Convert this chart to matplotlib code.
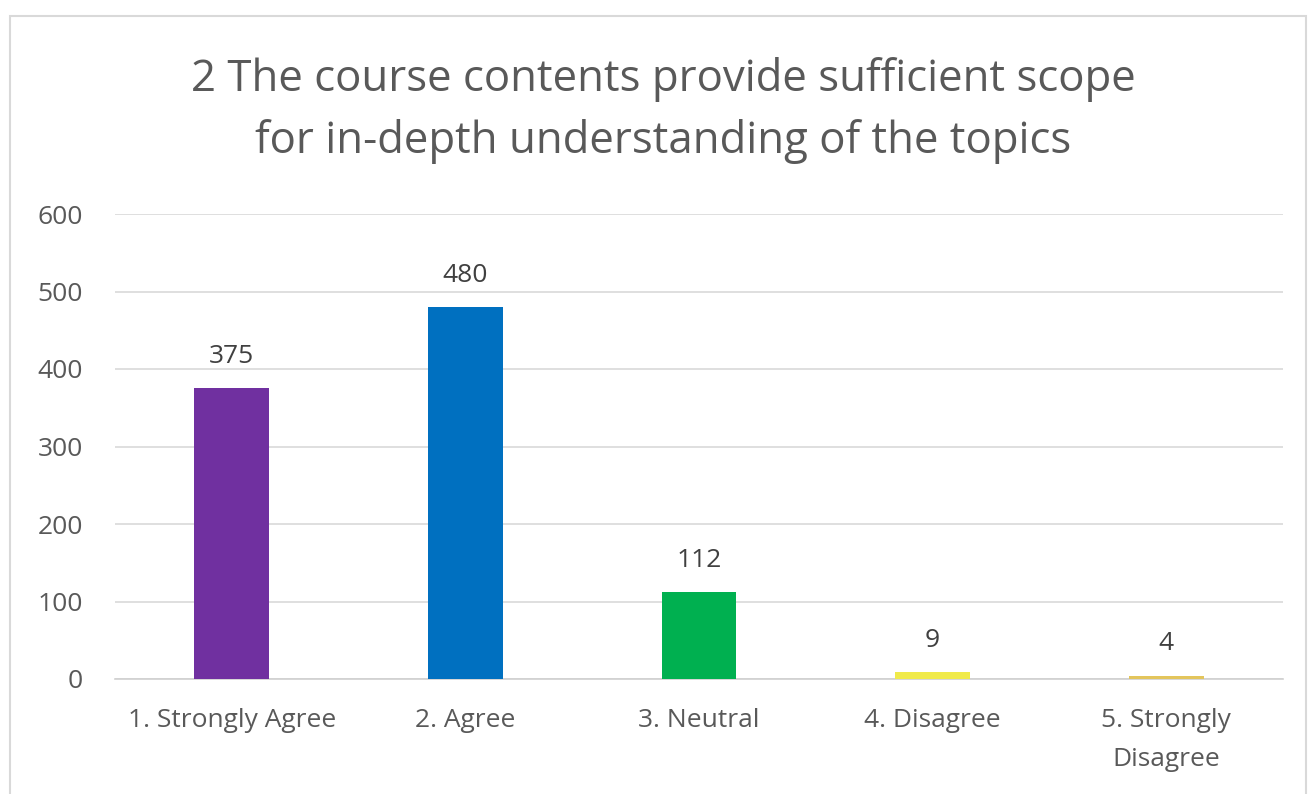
import numpy as np
import matplotlib.pyplot as plt
from matplotlib.patches import Rectangle

# Datos del grafico
categorias = ['1. Strongly Agree', '2. Agree', '3. Neutral', '4. Disagree', '5. Strongly\nDisagree']
respuestas = [375, 480, 112, 9, 4]
colores = ['#7030A0', '#0070C0', '#00B050', '#F0EA4A', '#E3C55C']
titulo = '2 The course contents provide sufficient scope\nfor in-depth understanding of the topics'
ticks_y = [0, 100, 200, 300, 400, 500, 600]

plt.rcParams['font.family'] = ['Open Sans', 'DejaVu Sans']
gris = '#595959'

fig = plt.figure(figsize=(13.09, 7.94), dpi=100)
ax = fig.add_axes([115/1309, 1 - 679/794, 1168/1309, 465/794])

x = np.arange(len(categorias))
barras = ax.bar(x, respuestas, width=0.32, color=colores, zorder=3)

# Etiquetas encima de cada barra
for xi, v in zip(x, respuestas):
	ax.annotate(str(v), (xi, v), xytext=(0, 14), textcoords='offset points',
		ha='center', va='bottom', fontsize=19, color='#404040')

ax.set_xlim(-0.5, 4.5)
ax.set_ylim(0, 600)
ax.set_yticks(ticks_y)
ax.set_xticks(x)
ax.set_xticklabels(categorias, fontsize=19, color=gris, linespacing=1.75)
ax.tick_params(axis='y', labelsize=19, labelcolor=gris, length=0, pad=23)
ax.tick_params(axis='x', length=0, pad=21)

ax.grid(axis='y', color='#D9D9D9', linewidth=1.2, zorder=0)
for lado in ['top', 'right', 'left']:
	ax.spines[lado].set_visible(False)
ax.spines['bottom'].set_color('#D0D0D0')
ax.spines['bottom'].set_linewidth(1.2)

fig.text(663/1309, 1 - 111/794, titulo, ha='center', va='center',
	fontsize=31.5, color=gris, linespacing=1.5)

# Marco exterior
fig.patches.append(Rectangle((10/1309, -0.05), 1296/1309, 1 - 16/794 + 0.05,
	transform=fig.transFigure, fill=False, edgecolor='#D9D9D9', linewidth=1.5))

fig.savefig('out.png', dpi=100)
